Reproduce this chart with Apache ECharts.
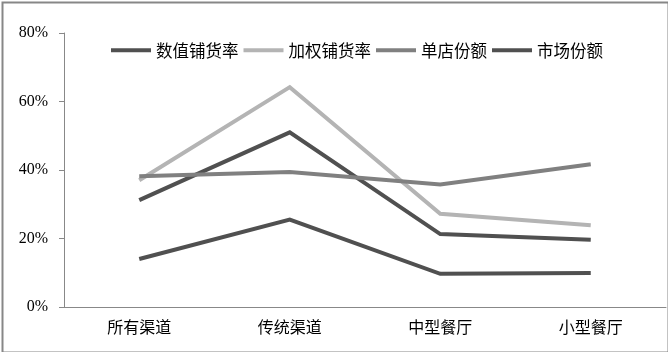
<!DOCTYPE html>
<html>
<head>
<meta charset="utf-8">
<script src="https://cdn.jsdelivr.net/npm/echarts@6/dist/echarts.min.js"></script>
<style>
  html, body { margin: 0; padding: 0; background: #fff; }
  #chart { width: 668px; height: 352px; }
</style>
</head>
<body>
<div id="chart"></div>
<script>
// 渠道
var categories = ['所有渠道', '传统渠道', '中型餐厅', '小型餐厅']
var seriesNames = ['数值铺货率', '加权铺货率', '单店份额', '市场份额']
// 各指标 (%)
var numericDist = [31.2, 51.0, 21.3, 19.6]
var weightedDist = [37.0, 64.2, 27.2, 23.9]
var storeShare = [38.2, 39.4, 35.8, 41.7]
var marketShare = [14.0, 25.5, 9.7, 9.9]
var yTicks = [0, 20, 40, 60, 80]

var colors = ['#505050', '#b4b4b4', '#808080', '#505050']
var values = [numericDist, weightedDist, storeShare, marketShare]

var chart = echarts.init(document.getElementById('chart'))
var option = {
  animation: false,
  color: colors,
  graphic: [{
    type: 'rect',
    left: 0,
    top: 0,
    shape: { x: 1, y: 1, width: 666, height: 350 },
    style: { fill: 'none', stroke: '#878787', lineWidth: 2 },
    silent: true
  }],
  legend: {
    top: 37,
    left: 106,
    itemWidth: 40,
    itemHeight: 4,
    itemGap: 5,
    icon: 'rect',
    textStyle: { fontFamily: 'Noto Sans CJK SC', fontSize: 16.5, color: '#000' },
    data: seriesNames
  },
  grid: { left: 64, top: 33, right: 2, bottom: 45 },
  xAxis: {
    type: 'category',
    data: categories,
    axisLine: { lineStyle: { color: '#888', width: 1 } },
    axisTick: { length: 5, lineStyle: { color: '#888' } },
    axisLabel: { margin: 12, fontFamily: 'Noto Sans CJK SC', fontSize: 16, color: '#000' }
  },
  yAxis: {
    type: 'value',
    min: yTicks[0],
    max: yTicks[yTicks.length - 1],
    interval: 20,
    axisLine: { show: true, lineStyle: { color: '#888', width: 1 } },
    axisTick: { show: true, length: 5, lineStyle: { color: '#888' } },
    splitLine: { show: false },
    axisLabel: { margin: 16, fontFamily: 'Liberation Serif', fontSize: 16, color: '#000', formatter: '{value}%' }
  },
  series: seriesNames.map(function (name, i) {
    return {
      name: name,
      type: 'line',
      data: values[i],
      symbol: 'none',
      lineStyle: { width: 4, color: colors[i], join: 'miter' }
    }
  })
}
chart.setOption(option)
</script>
</body>
</html>
